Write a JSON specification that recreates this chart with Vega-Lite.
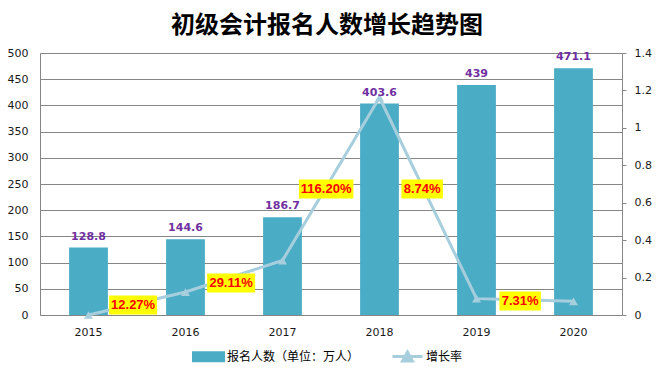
{
  "$schema": "https://vega.github.io/schema/vega-lite/v6.json",
  "width": 582,
  "height": 262,
  "autosize": {"type": "none"},
  "padding": {"left": 40, "top": 53, "right": 39, "bottom": 56},
  "background": "#ffffff",
  "title": {
    "text": "初级会计报名人数增长趋势图",
    "font": "Noto Sans CJK SC",
    "fontSize": 24,
    "fontWeight": "bold",
    "color": "#000000",
    "anchor": "middle",
    "dx": -4,
    "offset": 9
  },
  "config": {
    "view": {"stroke": null},
    "axis": {
      "labelFont": "DejaVu Sans",
      "labelFontSize": 11,
      "labelColor": "#1a1a1a",
      "domainColor": "#868686",
      "gridColor": "#868686",
      "tickColor": "#868686",
      "title": null
    }
  },
  "datasets": {
    "stats": [
      {"year": "2015", "count": 128.8, "rate": 0},
      {"year": "2016", "count": 144.6, "rate": 0.1227},
      {"year": "2017", "count": 186.7, "rate": 0.2911},
      {"year": "2018", "count": 403.6, "rate": 1.162},
      {"year": "2019", "count": 439, "rate": 0.0874},
      {"year": "2020", "count": 471.1, "rate": 0.0731}
    ],
    "ratelabels": [
      {"pos": 0.96, "rate": 0.053, "label": "12.27%"},
      {"pos": 1.97, "rate": 0.171, "label": "29.11%"},
      {"pos": 2.95, "rate": 0.673, "label": "116.20%"},
      {"pos": 3.94, "rate": 0.673, "label": "8.74%"},
      {"pos": 4.95, "rate": 0.075, "label": "7.31%"}
    ]
  },
  "layer": [
    {
      "data": {"name": "stats"},
      "mark": {"type": "bar"},
      "encoding": {
        "x": {
          "field": "year", "type": "ordinal",
          "scale": {"type": "band", "paddingInner": 0.6, "paddingOuter": 0.3},
          "axis": {"labelAngle": 0, "ticks": false, "labelPadding": 11, "domain": true, "grid": false}
        },
        "y": {
          "field": "count", "type": "quantitative",
          "scale": {"domain": [0, 500], "nice": false, "zero": true},
          "axis": {"orient": "left", "values": [0, 50, 100, 150, 200, 250, 300, 350, 400, 450, 500], "grid": true, "ticks": false, "labelPadding": 12, "domain": true}
        },
        "color": {
          "datum": "报名人数（单位：万人）",
          "scale": {"domain": ["报名人数（单位：万人）", "增长率"], "range": ["#4BACC6", "#A7CEDD"]},
          "legend": {
            "orient": "none",
            "legendX": 152,
            "legendY": 287,
            "direction": "horizontal",
            "columns": 2,
            "title": null,
            "padding": 0,
            "symbolSize": 900,
            "labelFont": "Noto Sans CJK SC",
            "labelFontSize": 12,
            "labelColor": "#000000",
            "labelOffset": 2,
            "columnPadding": 26,
            "symbolStrokeWidth": 3,
            "encode": {
              "symbols": {
                "update": {
                  "shape": {"signal": "datum.value === '增长率' ? 'M-1,0H1M-0.33,0.3L0,-0.3L0.33,0.3Z' : 'M-1,-0.27H1V0.27H-1Z'"},
                  "fill": {"signal": "datum.value === '增长率' ? '#A7CEDD' : '#4BACC6'"},
                  "stroke": {"signal": "datum.value === '增长率' ? '#A7CEDD' : 'transparent'"},
                  "strokeWidth": {"value": 3},
                  "fillOpacity": {"value": 1},
                  "opacity": {"value": 1}
                }
              }
            }
          }
        }
      }
    },
    {
      "data": {"name": "stats"},
      "mark": {"type": "line", "strokeWidth": 3, "point": {"shape": "triangle-up", "size": 80, "filled": true, "opacity": 1}},
      "encoding": {
        "x": {
          "field": "year", "type": "ordinal",
          "scale": {"type": "point", "padding": 0.5},
          "axis": null
        },
        "y": {
          "field": "rate", "type": "quantitative",
          "scale": {"domain": [0, 1.4], "nice": false},
          "axis": {"orient": "right", "values": [0, 0.2, 0.4, 0.6, 0.8, 1, 1.2, 1.4], "format": "~g", "grid": false, "ticks": true, "tickSize": 4, "labelPadding": 8, "domain": true}
        },
        "color": {"datum": "增长率"}
      }
    },
    {
      "data": {"name": "stats"},
      "mark": {"type": "text", "baseline": "bottom", "dy": -6, "font": "DejaVu Sans", "fontSize": 11, "fontWeight": "bold", "color": "#7030A0"},
      "encoding": {
        "x": {
          "field": "year", "type": "ordinal",
          "scale": {"type": "point", "padding": 0.5},
          "axis": null
        },
        "y": {
          "field": "count", "type": "quantitative",
          "scale": {"domain": [0, 500], "nice": false},
          "axis": null
        },
        "text": {"field": "count", "type": "quantitative", "format": "~g"}
      }
    },
    {
      "data": {"name": "ratelabels"},
      "layer": [
        {
          "mark": {"type": "rect", "color": "#FFFF00", "width": {"expr": "length(datum.label) * 6.5 + 9"}, "height": 19},
          "encoding": {
            "x": {"field": "pos", "type": "quantitative", "scale": {"domain": [0, 6], "nice": false, "zero": false}, "axis": null},
            "y": {"field": "rate", "type": "quantitative", "scale": {"domain": [0, 1.4], "nice": false}, "axis": null}
          }
        },
        {
          "mark": {"type": "text", "font": "Liberation Sans", "fontSize": 13, "fontWeight": "bold", "color": "#FF0000", "baseline": "middle", "align": "center"},
          "encoding": {
            "x": {"field": "pos", "type": "quantitative", "scale": {"domain": [0, 6], "nice": false, "zero": false}, "axis": null},
            "y": {"field": "rate", "type": "quantitative", "scale": {"domain": [0, 1.4], "nice": false}, "axis": null},
            "text": {"field": "label", "type": "nominal"}
          }
        }
      ]
    }
  ],
  "resolve": {"scale": {"x": "independent", "y": "independent"}}
}
